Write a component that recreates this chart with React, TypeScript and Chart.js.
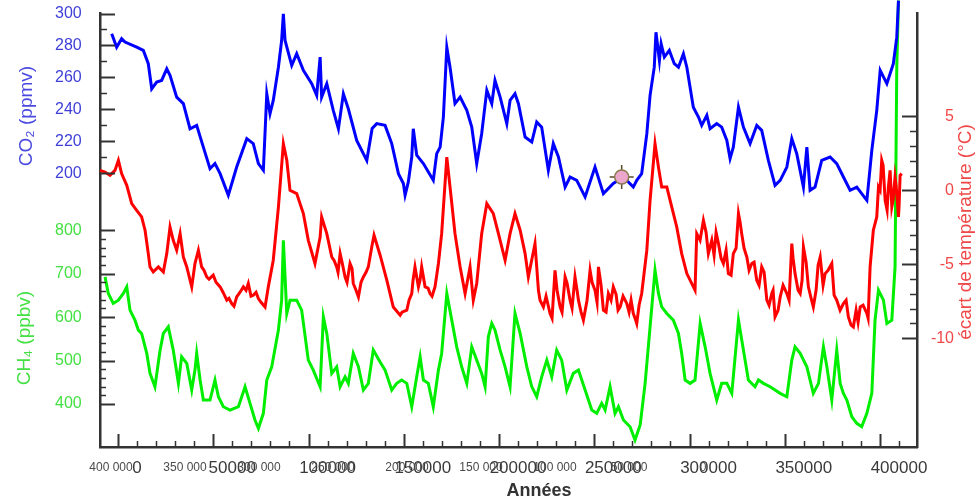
import React, { useEffect, useRef } from "react";
import { Chart, registerables } from "chart.js";

Chart.register(...registerables);

const FONT = '"Liberation Sans", Arial, Helvetica, sans-serif';

// ---- axis tick values / labels ----
const CO2_TICKS = [200, 220, 240, 260, 280, 300];
const CO2_MINOR = [210, 230, 250, 270, 290];
const CH4_TICKS = [400, 500, 600, 700, 800];
const CH4_MINOR = [420, 440, 460, 480, 520, 540, 560, 580, 620, 640, 660, 680, 720, 740, 760, 780];
const TEMP_TICKS = [5, 0, -5, -10];
const TEMP_MINOR = [4, 3, 2, 1, -1, -2, -3, -4, -6, -7, -8, -9];
const YEAR_TICKS = [0, 50000, 100000, 150000, 200000, 250000, 300000, 350000, 400000];
const YEAR_MINOR = [
  10000, 20000, 30000, 40000, 60000, 70000, 80000, 90000,
  110000, 120000, 130000, 140000, 160000, 170000, 180000, 190000,
  210000, 220000, 230000, 240000, 260000, 270000, 280000, 290000,
  310000, 320000, 330000, 340000, 360000, 370000, 380000, 390000, 410000,
];
const YEAR_DESC_VALUES = [400000, 350000, 300000, 250000, 200000, 150000, 100000, 50000, 0];
const YEAR_DESC_LABELS = ["400 000", "350 000", "300 000", "250 000", "200 000", "150 000", "100 000", "50 000", "0"];

// ---- CO2 (ppmv) ----
const CO2_X = [
  -3300, -700, 1900, 3700, 9800, 13300, 15900, 17700, 20300, 22900,
  25600, 27300, 30800, 34300, 37800, 41300, 44800, 48300, 50900, 53600,
  57900, 62300, 67600, 71000, 73700, 76300, 78100, 79800, 81500, 84200,
  85900, 86800, 87700, 91200, 93800, 97300, 101700, 104300, 106100, 106900,
  109600, 113000, 115700, 118300, 120900, 125300, 130600, 133400, 135800, 140200,
  143700, 147200, 149800, 150700, 152400, 154200, 155000, 156800, 160300, 165500,
  167300, 169100, 170800, 172600, 174300, 176900, 179600, 183100, 185700, 188300,
  190900, 193600, 196200, 197900, 200600, 204100, 205800, 208400, 210200, 213700,
  217200, 219800, 222400, 225900, 228500, 231200, 234700, 237300, 240800, 245200,
  250400, 254800, 260000, 265300, 270500, 272300, 274900, 277600, 279300, 281500,
  282400, 284200, 285100, 286800, 289400, 292000, 294200, 296800, 298600, 302000,
  304700, 306400, 309100, 310800, 314300, 316900, 319600, 321300, 323000, 325700,
  328300, 331800, 335300, 337900, 341400, 344900, 347600, 351100, 353700, 356300,
  359800, 361600, 363300, 365900, 369400, 373800, 377300, 380800, 384300, 387800,
  390400, 393100, 395700, 398300, 400100, 403600, 407000, 408800, 409700,
];
const CO2_Y = [
  287.3, 278.9, 284.2, 282.1, 278.9, 276.9, 268.6, 252.9, 257.1, 258.1,
  265.4, 261.3, 247.7, 243.6, 227.9, 230.0, 216.4, 202.9, 206.1, 199.8,
  186.3, 203.9, 221.7, 218.6, 206.1, 201.9, 249.8, 237.3, 245.6, 266.4,
  283.1, 299.8, 283.1, 267.5, 274.8, 264.4, 256.1, 248.8, 272.7, 247.7,
  256.1, 239.4, 227.9, 249.8, 240.4, 220.6, 208.1, 228.1, 231.1, 230.0,
  218.6, 199.8, 193.6, 186.3, 194.6, 210.2, 227.9, 211.3, 206.1, 195.6,
  212.3, 216.4, 235.2, 278.9, 266.4, 243.6, 247.7, 239.4, 228.9, 206.1,
  224.8, 251.9, 243.6, 258.1, 247.7, 231.1, 245.6, 249.8, 243.6, 222.7,
  219.6, 232.1, 228.9, 201.9, 218.6, 210.2, 191.4, 197.7, 195.6, 185.2,
  203.9, 187.3, 193.6, 197.7, 191.4, 195.6, 199.8, 224.8, 248.8, 266.4,
  288.3, 270.6, 281.1, 272.7, 276.9, 268.6, 266.4, 274.8, 266.4, 241.4,
  235.2, 230.0, 236.3, 227.9, 231.1, 228.9, 220.6, 209.2, 216.4, 241.4,
  228.9, 218.6, 230.0, 226.9, 208.1, 192.5, 195.6, 203.9, 221.7, 212.3,
  191.4, 216.4, 189.4, 191.4, 208.1, 210.2, 206.1, 197.7, 189.4, 191.4,
  187.3, 183.1, 214.4, 239.4, 264.4, 256.1, 268.6, 285.2, 308.1,
];

// ---- temperature deviation (°C): main trace ----
const TEMP_X = [
  -9450, -6800, -4200, -1600, 200, 1900, 4600, 7200, 9800, 12400,
  14200, 15900, 16800, 18500, 21200, 23800, 25600, 27300, 29000, 30800,
  32600, 34300, 36100, 38700, 40400, 42200, 43900, 46600, 50000, 53600,
  57100, 59700, 62300, 65800, 68400, 71000, 73700, 77200, 78900, 81500,
  84200, 86800, 88600, 90300, 93800, 97300, 99900, 103400, 106100, 106900,
  109600, 112200, 114800, 116600, 119200, 121800, 123500, 126200, 128800, 131400,
  133200, 134400, 137600, 141100, 144500, 148100, 151600, 154200, 155900, 157700,
  159400, 161200, 163800, 166400, 168200, 169900, 172600, 174300, 176900, 179600,
  182200, 184800, 186500, 188300, 190900, 193600, 197000, 199700, 203200, 205800,
  208400, 211100, 213700, 215400, 218900, 220700, 223300, 226800, 229400, 232100,
  234700, 237300, 239900, 241700, 244300, 247800, 250400, 252200, 254800, 257400,
  260000, 263600, 267100, 270500, 272300, 274900, 277600, 279300, 281900, 283700,
  285400, 288100, 290700, 293300, 295900, 298600, 302900, 303800, 307300, 309900,
  311700, 315200, 317800, 320400, 323000, 325700, 327400, 330100, 332700, 335300,
  337900, 340600, 343200, 344900, 347600, 351100, 353700, 355400, 358100, 359800,
  362400, 365000, 368600, 371200, 374700, 377300, 380800, 383400, 386000, 389600,
  393100, 394800, 396500, 398300, 399200, 400900, 402700, 404400, 406200, 407900,
  409700, 411400,
];
const TEMP_Y = [
  1.35, 1.24, 1.01, 1.35, 2.03, 1.13, 0.34, -0.9, -1.35, -1.8,
  -2.7, -4.28, -5.18, -5.52, -5.18, -5.52, -4.28, -2.48, -3.38, -4.05,
  -2.93, -4.51, -5.18, -6.53, -4.95, -4.05, -5.18, -5.86, -5.74, -6.53,
  -7.43, -7.66, -7.21, -6.53, -6.3, -7.09, -7.32, -7.89, -6.53, -4.73,
  -1.13, 3.16, 2.03, 0.0, -0.22, -1.57, -3.38, -4.95, -3.16, -1.8,
  -2.93, -4.51, -5.18, -4.28, -5.86, -4.95, -6.3, -7.21, -5.86, -5.18,
  -3.83, -3.04, -4.39, -6.08, -7.89, -8.45, -8.11, -6.98, -5.18, -6.53,
  -5.18, -6.53, -6.98, -6.53, -4.95, -2.93, 2.25, 0.22, -2.93, -5.18,
  -6.98, -5.18, -7.43, -6.3, -2.93, -0.9, -1.57, -2.93, -4.73, -2.93,
  -1.57, -2.7, -4.28, -5.86, -3.6, -6.76, -7.89, -8.33, -5.41, -7.89,
  -5.86, -7.43, -5.86, -7.43, -8.78, -5.41, -6.76, -5.18, -8.11, -6.98,
  -6.53, -7.89, -7.66, -8.33, -9.01, -6.98, -4.05, -0.68, 3.16, 1.57,
  0.22, 0.22, -1.13, -2.48, -4.28, -5.63, -6.76, -2.93, -2.03, -4.28,
  -3.38, -3.6, -4.95, -5.63, -4.28, -1.57, -2.93, -4.51, -4.95, -6.08,
  -5.18, -7.43, -6.98, -8.56, -7.21, -6.98, -3.6, -5.63, -6.98, -3.83,
  -6.53, -7.89, -4.51, -5.63, -4.95, -7.43, -7.66, -8.56, -9.24, -7.89,
  -8.33, -5.18, -2.7, -1.8, 0.22, 2.03, -0.68, 0.22, -1.13, 0.9,
  -1.8, 1.13,
];

// ---- temperature: extra short-period wiggles read from the noisy stretches ----
const TEMP_FINE_X = [
  45150, 47775, 51450, 55125, 58275, 60900, 64050, 67200, 69825, 72450, 75075,
  113400, 115500, 117600, 120225, 122850, 124950, 127575, 130200,
  149100, 152775, 154875, 158550, 162750, 164850,
  221550, 224700, 227850, 230475, 233100, 235725, 238350, 240975, 243075, 246225,
  248850, 251475, 253575, 256200, 258825, 261450, 262500, 265125, 268275, 269325,
  271425, 273525,
  305550, 308700, 312900, 313950, 316575, 319200, 321825, 324450, 326550, 328650,
  331275, 333900, 336525, 339150, 341775, 343875, 346500, 349125, 352275, 354375,
  357000, 359100, 361200, 363825, 366450, 367500, 370125, 372750, 375900, 379050,
  382200, 384825, 387450, 388500, 391125, 393750,
  400050, 401625, 403725, 405300, 406875, 408450, 410025, 410550,
];
const TEMP_FINE_Y = [
  -5.41, -6.01, -6.22, -6.89, -7.3, -7.84, -6.89, -6.76, -7.16, -6.89, -7.57,
  -4.73, -5.54, -4.86, -6.22, -5.27, -6.76, -6.22, -5.54,
  -8.24, -7.43, -6.08, -6.08, -6.62, -7.16,
  -7.43, -7.16, -8.65, -6.76, -8.24, -6.28, -7.97, -6.76, -8.24, -7.43,
  -6.22, -7.57, -6.42, -8.24, -7.43, -7.03, -8.11, -7.16, -8.24, -7.43,
  -8.65, -7.77,
  -3.38, -2.84, -4.39, -2.84, -4.59, -4.05, -5.74, -3.92, -2.16, -3.92,
  -5.41, -4.86, -6.42, -5.54, -7.77, -6.76, -8.11, -6.42, -7.43, -4.59,
  -6.76, -6.08, -4.86, -7.3, -6.76, -5.07, -6.42, -5.41, -7.09, -8.11,
  -7.43, -9.12, -8.11, -8.92, -7.77, -8.65,
  0.0, 1.69, -1.35, 1.35, -0.68, 0.34, -1.01, 1.01,
];

// ---- CH4 (ppbv) ----
const CH4_X = [
  -6800, -5100, -2500, 200, 2800, 4600, 6300, 8900, 10700, 12400,
  15100, 16800, 19400, 22100, 23800, 26400, 29000, 31700, 33400, 36100,
  38700, 40400, 41300, 43100, 44800, 48300, 50900, 52700, 55300, 58800,
  63200, 66700, 69300, 71900, 73700, 76300, 78100, 80700, 84200, 85900,
  86800, 88600, 90300, 93800, 96400, 99900, 102500, 106100, 107800, 109600,
  112200, 114800, 116600, 119200, 120900, 123500, 126200, 128800, 131400, 134000,
  137600, 140200, 143700, 146300, 148900, 151600, 154200, 156800, 158600, 160300,
  162900, 165500, 168200, 169900, 172600, 175200, 177800, 180400, 183100, 185700,
  188300, 190900, 192700, 194400, 196200, 197900, 200600, 203200, 205800, 208400,
  211100, 214600, 217200, 219800, 222400, 225100, 227700, 230300, 232900, 235600,
  239000, 241700, 245200, 248700, 251300, 253900, 255700, 258300, 260900, 262700,
  265300, 268800, 271400, 274100, 276700, 279300, 281900, 283700, 285400, 288100,
  291500, 294200, 295900, 297700, 300300, 302900, 305600, 308200, 310800, 314300,
  316900, 319600, 322200, 325700, 328300, 330900, 334400, 336200, 338800, 342300,
  344900, 347600, 351100, 353700, 355400, 358100, 361600, 365000, 367700, 370300,
  372100, 374700, 377300, 379100, 380800, 382600, 385200, 387800, 390400, 393100,
  395700, 397400, 399200, 401800, 403600, 406200, 407900, 408800, 409700,
];
const CH4_Y = [
  692.6, 654.5, 631.5, 639.1, 654.5, 669.6, 616.1, 593.1, 570.1, 562.5,
  516.5, 470.6, 439.7, 524.1, 562.5, 577.7, 524.1, 447.6, 508.7, 493.6,
  432.2, 478.1, 516.5, 455.2, 409.2, 409.2, 455.2, 416.8, 393.8, 386.2,
  393.8, 439.8, 401.6, 363.2, 344.1, 378.6, 455.2, 485.7, 570.1, 639.1,
  777.0, 608.5, 639.1, 639.1, 616.1, 501.1, 478.1, 439.8, 600.7, 562.5,
  470.6, 485.7, 439.8, 462.7, 447.6, 516.5, 485.7, 432.2, 447.6, 524.1,
  496.5, 478.1, 432.2, 447.6, 455.2, 447.6, 393.8, 462.7, 508.7, 455.2,
  447.6, 393.8, 478.1, 516.5, 654.5, 593.1, 531.7, 485.7, 447.6, 531.7,
  501.1, 470.6, 439.8, 554.7, 585.5, 570.1, 524.1, 485.7, 439.8, 608.5,
  562.5, 485.7, 439.8, 416.8, 462.7, 501.1, 462.7, 524.1, 501.1, 432.2,
  470.6, 478.1, 432.2, 386.2, 378.6, 401.6, 386.2, 439.8, 378.6, 393.8,
  363.2, 347.8, 317.2, 351.7, 447.6, 577.7, 708.0, 654.5, 623.7, 608.5,
  593.1, 562.5, 516.5, 455.2, 447.6, 455.2, 585.5, 531.7, 470.6, 409.2,
  447.6, 447.6, 424.6, 593.1, 524.1, 455.2, 439.8, 455.2, 447.6, 439.8,
  432.2, 424.6, 416.8, 501.1, 531.7, 516.5, 485.7, 424.6, 447.6, 531.7,
  485.7, 409.2, 524.1, 447.6, 424.6, 409.2, 370.8, 355.6, 347.8, 378.6,
  424.6, 593.1, 662.1, 639.1, 585.5, 593.1, 715.6, 1175.4, 1328.8,
];

// highlighted point on the CO2 curve
const MARKER_X = [264400];
const MARKER_Y = [197.7];

const zip = (xs: number[], ys: number[]) =>
  xs.slice(0, Math.min(xs.length, ys.length)).map((x, i) => ({ x, y: ys[i] }));

const fitTo = (w: number | null, h: number | null) => (sc: any) => {
  if (w !== null) sc.width = w;
  if (h !== null) sc.height = h;
  sc.paddingTop = 0;
  sc.paddingBottom = 0;
  sc.paddingLeft = 0;
  sc.paddingRight = 0;
};

const decorPlugin = {
  id: "decor",
  afterDraw(chart: any) {
    const ctx = chart.ctx as CanvasRenderingContext2D;
    const { left, right, bottom } = chart.chartArea;
    const s = chart.scales;
    ctx.save();
    ctx.strokeStyle = "#333";
    const hTick = (scale: any, vals: number[], len: number, fromRight: boolean) => {
      vals.forEach((v) => {
        const y = Math.round(scale.getPixelForValue(v)) + 0.5;
        ctx.beginPath();
        if (fromRight) {
          ctx.moveTo(right, y);
          ctx.lineTo(right - len, y);
        } else {
          ctx.moveTo(left, y);
          ctx.lineTo(left + len, y);
        }
        ctx.stroke();
      });
    };
    const vTick = (scale: any, vals: number[], len: number) => {
      vals.forEach((v) => {
        const x = Math.round(scale.getPixelForValue(v)) + 0.5;
        ctx.beginPath();
        ctx.moveTo(x, bottom);
        ctx.lineTo(x, bottom - len);
        ctx.stroke();
      });
    };
    ctx.lineWidth = 2;
    hTick(s.yCO2, CO2_TICKS, 15, false);
    hTick(s.yCH4, CH4_TICKS, 15, false);
    hTick(s.yT, TEMP_TICKS, 15, true);
    vTick(s.x, YEAR_TICKS, 13);
    ctx.lineWidth = 1.5;
    hTick(s.yCO2, CO2_MINOR, 7, false);
    hTick(s.yCH4, CH4_MINOR, 6, false);
    hTick(s.yT, TEMP_MINOR, 7, true);
    vTick(s.x, YEAR_MINOR, 6);

    const rotText = (text: string, x: number, y: number, color: string, font: string) => {
      ctx.save();
      ctx.translate(x, y);
      ctx.rotate(-Math.PI / 2);
      ctx.fillStyle = color;
      ctx.font = font;
      ctx.textAlign = "center";
      ctx.textBaseline = "middle";
      ctx.fillText(text, 0, 0);
      ctx.restore();
    };
    rotText("CO\u2082 (ppmv)", 27, 116, "#4a4ae0", `19px ${FONT}`);
    rotText("CH\u2084 (ppbv)", 25, 338, "#44e044", `19px ${FONT}`);
    rotText("\u00e9cart de temp\u00e9rature (\u00b0C)", 966, 232, "#f04848", `19px ${FONT}`);

    ctx.fillStyle = "#333";
    ctx.font = `bold 18px ${FONT}`;
    ctx.textAlign = "center";
    ctx.textBaseline = "middle";
    ctx.fillText("Ann\u00e9es", 539, 491);
    ctx.restore();
  },
};

export default function App() {
  const ref = useRef<HTMLCanvasElement | null>(null);

  useEffect(() => {
    if (!ref.current) return;
    const noGrid = { drawOnChartArea: false, drawTicks: false };
    const tempData = [...zip(TEMP_X, TEMP_Y), ...zip(TEMP_FINE_X, TEMP_FINE_Y)].sort((a, b) => a.x - b.x);
    const chart = new Chart(ref.current, {
      type: "line",
      data: {
        datasets: [
          {
            label: "marker",
            data: zip(MARKER_X, MARKER_Y),
            xAxisID: "x",
            yAxisID: "yCO2",
            showLine: false,
            pointRadius: 7,
            pointStyle: "circle",
            pointBackgroundColor: "#eca6cc",
            pointBorderColor: "#8a7a50",
            pointBorderWidth: 1.5,
            order: 0,
          },
          {
            label: "cross",
            data: zip(MARKER_X, MARKER_Y),
            xAxisID: "x",
            yAxisID: "yCO2",
            showLine: false,
            pointRadius: 12,
            pointStyle: "cross",
            pointBorderColor: "#5a4a2a",
            pointBorderWidth: 1.5,
            order: 1,
          },
          {
            label: "CO2",
            data: zip(CO2_X, CO2_Y),
            xAxisID: "x",
            yAxisID: "yCO2",
            borderColor: "#0000ff",
            borderWidth: 3,
            pointRadius: 0,
            tension: 0,
            clip: false,
            order: 2,
          },
          {
            label: "Temp",
            data: tempData,
            xAxisID: "x",
            yAxisID: "yT",
            borderColor: "#ff0000",
            borderWidth: 3,
            pointRadius: 0,
            tension: 0,
            clip: false,
            order: 3,
          },
          {
            label: "CH4",
            data: zip(CH4_X, CH4_Y),
            xAxisID: "x",
            yAxisID: "yCH4",
            borderColor: "#00ee00",
            borderWidth: 3,
            pointRadius: 0,
            tension: 0,
            clip: false,
            order: 4,
          },
        ],
      },
      options: {
        responsive: false,
        animation: false,
        devicePixelRatio: 1,
        layout: { padding: { top: 13, left: 0, right: 0, bottom: 0 } },
        plugins: { legend: { display: false }, tooltip: { enabled: false } },
        events: [],
        scales: {
          x: {
            type: "linear",
            position: "bottom",
            weight: 0,
            min: -9450,
            max: 419420,
            afterBuildTicks: (sc: any) => {
              sc.ticks = YEAR_TICKS.map((v) => ({ value: v }));
            },
            afterFit: fitTo(null, 0),
            grid: noGrid,
            border: { display: true, color: "#333", width: 2.5 },
            ticks: {
              autoSkip: false,
              maxRotation: 0,
              mirror: true,
              labelOffset: 19,
              padding: -32,
              color: "#3a3a3a",
              font: { family: FONT, size: 17 },
              callback: (v: any) => String(v),
            },
          },
          x2: {
            type: "linear",
            position: "bottom",
            weight: 1,
            reverse: true,
            min: -144595,
            max: 407432,
            afterBuildTicks: (sc: any) => {
              sc.ticks = YEAR_DESC_VALUES.map((v) => ({ value: v }));
            },
            afterFit: fitTo(null, 54),
            grid: noGrid,
            border: { display: false },
            ticks: {
              autoSkip: false,
              maxRotation: 0,
              padding: 13,
              color: "#4a4a4a",
              font: { family: FONT, size: 12 },
              callback: (v: any) => YEAR_DESC_LABELS[YEAR_DESC_VALUES.indexOf(Number(v))],
            },
          },
          yCO2: {
            type: "linear",
            position: "left",
            weight: 1,
            min: 28.75,
            max: 300,
            afterBuildTicks: (sc: any) => {
              sc.ticks = CO2_TICKS.map((v) => ({ value: v }));
            },
            afterFit: fitTo(100, null),
            grid: noGrid,
            border: { display: true, color: "#333", width: 2.5 },
            ticks: {
              mirror: true,
              padding: -45,
              color: "#3f3fd8",
              font: { family: FONT, size: 16 },
              callback: (v: any) => String(v),
            },
          },
          yCH4: {
            type: "linear",
            position: "left",
            weight: 0,
            min: 301.1,
            max: 1298.9,
            afterBuildTicks: (sc: any) => {
              sc.ticks = CH4_TICKS.map((v) => ({ value: v }));
            },
            afterFit: fitTo(0, null),
            grid: noGrid,
            border: { display: false },
            ticks: {
              mirror: true,
              padding: -45,
              color: "#44e044",
              font: { family: FONT, size: 16 },
              callback: (v: any) => String(v),
            },
          },
          yT: {
            type: "linear",
            position: "right",
            min: -17.36,
            max: 11.96,
            afterBuildTicks: (sc: any) => {
              sc.ticks = TEMP_TICKS.map((v) => ({ value: v }));
            },
            afterFit: fitTo(59, null),
            grid: noGrid,
            border: { display: true, color: "#333", width: 2.5 },
            ticks: {
              mirror: true,
              padding: 37,
              color: "#f04848",
              font: { family: FONT, size: 16 },
              callback: (v: any) => String(v),
            },
          },
        },
      } as any,
      plugins: [decorPlugin],
    });
    return () => chart.destroy();
  }, []);

  return (
    <div style={{ position: "fixed", left: 0, top: 0, width: 976, height: 501, background: "#fff" }}>
      <canvas ref={ref} width={976} height={501} style={{ width: 976, height: 501, display: "block" }} />
    </div>
  );
}
